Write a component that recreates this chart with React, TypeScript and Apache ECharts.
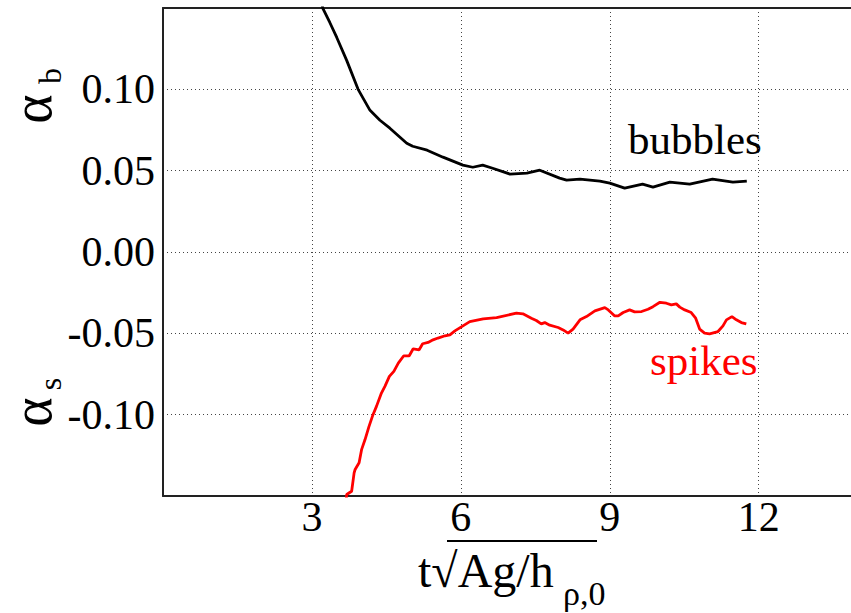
import React, { useEffect, useRef } from "react";
import * as echarts from "echarts";

// bubbles (alpha_b) curve
const tBubbles = [3.2, 3.22, 3.36, 3.5, 3.7, 3.93, 4.17, 4.37, 4.57, 4.91, 5.03, 5.32, 5.64, 6.04, 6.24, 6.44, 6.64, 6.99, 7.33, 7.59, 7.99, 8.13, 8.4, 8.8, 9.0, 9.3, 9.66, 9.87, 10.21, 10.61, 11.07, 11.48, 11.76];
const aBubbles = [0.153, 0.1497, 0.1411, 0.1319, 0.1178, 0.1, 0.0871, 0.081, 0.0761, 0.0669, 0.065, 0.0626, 0.0583, 0.0534, 0.0521, 0.0534, 0.0515, 0.0479, 0.0485, 0.0503, 0.0454, 0.0442, 0.0448, 0.0436, 0.0423, 0.0393, 0.0417, 0.0399, 0.0429, 0.0417, 0.0448, 0.0429, 0.0436];

// spikes (alpha_s) curve
const tSpikes = [3.69, 3.7, 3.8, 3.85, 3.87, 3.95, 4.0, 4.07, 4.15, 4.23, 4.3, 4.4, 4.47, 4.56, 4.65, 4.74, 4.85, 4.96, 5.04, 5.16, 5.23, 5.34, 5.44, 5.54, 5.68, 5.78, 5.88, 6.01, 6.18, 6.45, 6.72, 7.12, 7.25, 7.42, 7.52, 7.62, 7.69, 7.79, 7.96, 8.06, 8.16, 8.26, 8.4, 8.53, 8.7, 8.9, 8.97, 9.1, 9.17, 9.27, 9.4, 9.5, 9.64, 9.77, 9.87, 10.01, 10.14, 10.24, 10.34, 10.41, 10.51, 10.64, 10.73, 10.81, 10.91, 11.01, 11.18, 11.28, 11.35, 11.46, 11.55, 11.65, 11.75];
const aSpikes = [-0.153, -0.1491, -0.1471, -0.1358, -0.1337, -0.1296, -0.1215, -0.1153, -0.1072, -0.1, -0.0949, -0.0867, -0.0826, -0.0765, -0.0734, -0.0683, -0.0638, -0.0638, -0.0595, -0.0601, -0.0564, -0.0556, -0.054, -0.0529, -0.0515, -0.0509, -0.0485, -0.046, -0.0428, -0.0411, -0.0403, -0.0376, -0.038, -0.0407, -0.0421, -0.0442, -0.0434, -0.045, -0.0464, -0.0479, -0.0499, -0.0474, -0.0417, -0.0397, -0.0362, -0.0342, -0.0356, -0.0393, -0.0393, -0.0372, -0.0356, -0.0368, -0.0366, -0.0352, -0.0336, -0.0309, -0.0315, -0.0325, -0.0319, -0.0339, -0.0356, -0.0372, -0.0407, -0.0474, -0.0499, -0.0503, -0.0489, -0.0454, -0.0417, -0.0397, -0.0417, -0.0434, -0.0442];

const X_MIN = 0;
const X_MAX = 14;
const X_STEP = 3;
const X_LABELS = [3, 6, 9, 12];
const Y_MIN = -0.15;
const Y_MAX = 0.15;
const Y_STEP = 0.05;

const FONT = "'Liberation Serif', 'DejaVu Serif', serif";

export default function App() {
  const ref = useRef<HTMLDivElement>(null);
  useEffect(() => {
    if (!ref.current) return;
    const chart = echarts.init(ref.current, undefined, { renderer: "svg" });
    const dotted = { show: true, lineStyle: { color: "#444", width: 1, type: [1, 3] as any } };
    const option: any = {
      animation: false,
      backgroundColor: "#fff",
      grid: { left: 163, right: 0, top: 8, bottom: 117, outerBoundsMode: "none", containLabel: false },
      xAxis: [
        {
          type: "value",
          min: X_MIN,
          max: X_MAX,
          interval: X_STEP,
          axisLine: { show: true, onZero: false, lineStyle: { color: "#222", width: 2 } },
          axisTick: { show: false },
          splitLine: dotted,
          axisLabel: {
            color: "#000",
            fontSize: 42,
            fontFamily: FONT,
            margin: 0,
            formatter: (v: number) => (X_LABELS.includes(v) ? String(v) : ""),
          },
        },
        {
          type: "value",
          position: "top",
          min: X_MIN,
          max: X_MAX,
          axisLine: { show: true, onZero: false, lineStyle: { color: "#222", width: 2 } },
          axisTick: { show: false },
          axisLabel: { show: false },
          splitLine: { show: false },
        },
      ],
      yAxis: {
        type: "value",
        min: Y_MIN,
        max: Y_MAX,
        interval: Y_STEP,
        axisLine: { show: true, onZero: false, lineStyle: { color: "#222", width: 2 } },
        axisTick: { show: false },
        splitLine: dotted,
        axisLabel: {
          color: "#000",
          fontSize: 42,
          fontFamily: FONT,
          margin: 8,
          formatter: (v: number) => {
            if (Math.abs(Math.abs(v) - 0.15) < 1e-9) return "";
            if (Math.abs(v) < 1e-9) return "0.00";
            return v.toFixed(2);
          },
        },
      },
      series: [
        {
          type: "line",
          xAxisIndex: 0,
          showSymbol: false,
          clip: true,
          lineStyle: { color: "#000", width: 2.8 },
          data: tBubbles.map((t, i) => [t, aBubbles[i]]),
        },
        {
          type: "line",
          xAxisIndex: 0,
          showSymbol: false,
          clip: true,
          lineStyle: { color: "#ff0000", width: 2.8 },
          data: tSpikes.map((t, i) => [t, aSpikes[i]]),
        },
      ],
      graphic: [
        { type: "text", x: 628, y: 139, style: { text: "bubbles", fill: "#000", font: `43px ${FONT}`, align: "left", verticalAlign: "middle" } },
        { type: "text", x: 650, y: 360, style: { text: "spikes", fill: "#ff0000", font: `43px ${FONT}`, align: "left", verticalAlign: "middle" } },
        { type: "text", x: 32, y: 109, rotation: Math.PI / 2, style: { text: "α", fill: "#000", font: `56px ${FONT}`, align: "center", verticalAlign: "middle" } },
        { type: "text", x: 50, y: 76, rotation: Math.PI / 2, style: { text: "b", fill: "#000", font: `32px ${FONT}`, align: "center", verticalAlign: "middle" } },
        { type: "text", x: 32, y: 412, rotation: Math.PI / 2, style: { text: "α", fill: "#000", font: `56px ${FONT}`, align: "center", verticalAlign: "middle" } },
        { type: "text", x: 50, y: 384, rotation: Math.PI / 2, style: { text: "s", fill: "#000", font: `32px ${FONT}`, align: "center", verticalAlign: "middle" } },
        { type: "text", x: 418, y: 570, style: { text: "t√Ag/h", fill: "#000", font: `48px ${FONT}`, align: "left", verticalAlign: "middle" } },
        { type: "text", x: 563, y: 593, style: { text: "ρ,0", fill: "#000", font: `34px ${FONT}`, align: "left", verticalAlign: "middle" } },
        { type: "line", shape: { x1: 447, y1: 541, x2: 597, y2: 541 }, style: { stroke: "#000", lineWidth: 2 } },
      ],
    };
    chart.setOption(option);
    return () => chart.dispose();
  }, []);
  return (
    <div style={{ position: "fixed", left: 0, top: 0, width: 851, height: 613, overflow: "hidden", background: "#fff" }}>
      <div ref={ref} style={{ width: 858, height: 613 }} />
    </div>
  );
}
